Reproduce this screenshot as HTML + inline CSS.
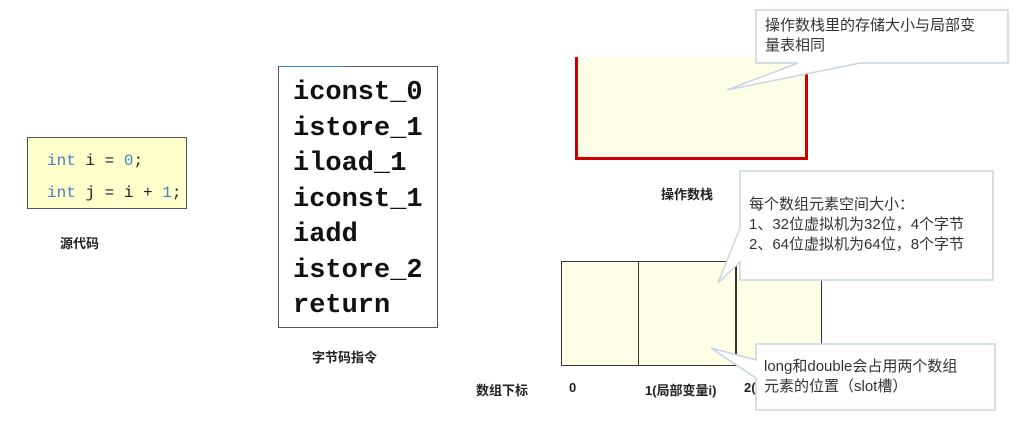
<!DOCTYPE html>
<html><head><meta charset="utf-8"><style>
body{margin:0;width:1024px;height:434px;background:#fff;position:relative;overflow:hidden;font-family:"Liberation Sans","Noto Sans CJK SC",sans-serif}
.a{position:absolute}
.lbl{position:absolute;font-weight:bold;font-size:13px;color:#222;white-space:nowrap}
.code{font-family:"Liberation Mono",monospace;font-size:16px;color:#222;position:absolute;left:47px}
.code b{font-weight:normal;color:#4a7fc1}
.bc{position:absolute;left:293px;font-family:"Liberation Mono",monospace;font-weight:bold;font-size:27px;color:#111;line-height:35.5px;top:76px}
.cl{position:absolute;font-size:15px;color:#333;line-height:20px;white-space:nowrap}
</style></head><body>
<div class="a" style="left:27px;top:137px;width:158px;height:70px;background:#ffffcc;border:1px solid #555"></div>
<div class="code" style="top:152px"><b>int</b> i = <b>0</b>;</div>
<div class="code" style="top:184px"><b>int</b> j = i + <b>1</b>;</div>
<div class="lbl" style="left:60px;top:233px">源代码</div>

<div class="a" style="left:278px;top:66px;width:158px;height:260px;border:1px solid #555"></div>
<div class="a" style="left:279px;top:66px;width:67px;height:1px;background:#3b7bd0"></div>
<div class="bc">iconst_0<br>istore_1<br>iload_1<br>iconst_1<br>iadd<br>istore_2<br>return</div>
<div class="lbl" style="left:312px;top:347px">字节码指令</div>

<div class="a" style="left:575px;top:57px;width:227px;height:100px;background:#fefde6;border:3px solid #c00;border-top:none"></div>
<div class="lbl" style="left:661px;top:184px">操作数栈</div>

<div class="a" style="left:561px;top:261px;width:259px;height:103px;background:#fefde6;border:1px solid #333"></div>
<div class="a" style="left:638px;top:261px;width:1px;height:104px;background:#333"></div>
<div class="a" style="left:735px;top:261px;width:2px;height:104px;background:#333"></div>
<div class="lbl" style="left:476px;top:380px">数组下标</div>
<div class="lbl" style="left:569px;top:380px">0</div>
<div class="lbl" style="left:645px;top:380px">1(局部变量i)</div>
<div class="lbl" style="left:744px;top:380px">2(</div>

<svg class="a" style="left:0;top:0" width="1024" height="434">
<g fill="#fff" stroke="#c9d3e3" stroke-width="1.5">
<path d="M756,10 H1008 V63 H860 L727,90 L798,63 H756 Z"/>
<path d="M740,171 H993 V280 H740 V262 L718,283 L740,228 Z"/>
<path d="M756,344 H995 V410 H756 V378 L711,348 L756,360 Z"/>
</g></svg>
<div class="cl" style="left:765px;top:16px">操作数栈里的存储大小与局部变<br>量表相同</div>
<div class="cl" style="left:749px;top:195px">每个数组元素空间大小：<br>1、32位虚拟机为32位，4个字节<br>2、64位虚拟机为64位，8个字节</div>
<div class="cl" style="left:764px;top:357px">long和double会占用两个数组<br>元素的位置（slot槽）</div>
</body></html>
